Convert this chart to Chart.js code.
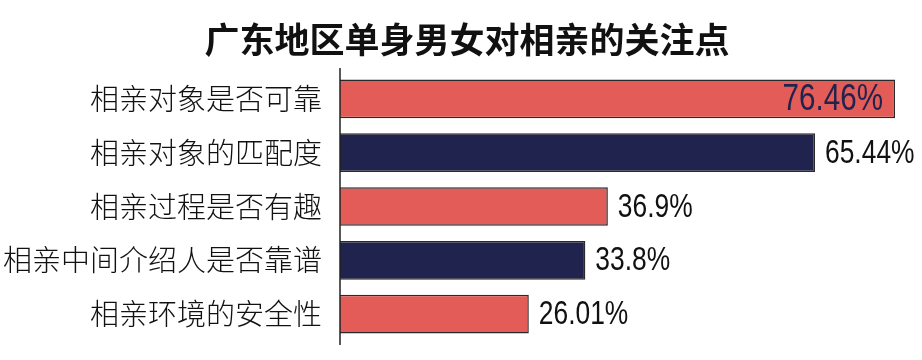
<!DOCTYPE html>
<html>
<head>
<meta charset="utf-8">
<script src="https://cdn.jsdelivr.net/npm/chart.js@4"></script>
<style>
  html, body { margin: 0; padding: 0; background: #fff; }
  #wrap { width: 922px; height: 360px; position: relative; }
</style>
</head>
<body>
<div id="wrap"><canvas id="chart"></canvas></div>
<script>
const chartTitle = '广东地区单身男女对相亲的关注点';
const categories = ['相亲对象是否可靠', '相亲对象的匹配度', '相亲过程是否有趣', '相亲中间介绍人是否靠谱', '相亲环境的安全性'];
const values = [76.46, 65.44, 36.9, 33.8, 26.01];
const barColors = ['#E35C58', '#1F234D', '#E35C58', '#1F234D', '#E35C58'];

const NAVY = '#1F234D';
const numFont = '"Liberation Sans", Arial, sans-serif';

// title drawn by hand so it can sit a little right of the canvas centre
const titlePlugin = {
  id: 'titlePlugin',
  afterDraw(chart) {
    const ctx = chart.ctx;
    ctx.save();
    ctx.font = 'bold 35px "Noto Sans CJK SC", sans-serif';
    ctx.fillStyle = '#111';
    ctx.textAlign = 'center';
    ctx.textBaseline = 'middle';
    ctx.fillText(chartTitle, 467, 40);
    ctx.restore();
  }
};

// value labels: first one sits inside the bar, the rest to the right (narrowed to look like DIN)
const valueLabels = {
  id: 'valueLabels',
  afterDatasetsDraw(chart) {
    const ctx = chart.ctx;
    const meta = chart.getDatasetMeta(0);
    const sx = 0.8;
    meta.data.forEach((bar, i) => {
      const txt = values[i] + '%';
      ctx.save();
      ctx.textBaseline = 'middle';
      if (i === 0) {
        ctx.font = '37px ' + numFont;
        ctx.fillStyle = NAVY;
        ctx.textAlign = 'right';
        ctx.translate(bar.x - 12, bar.y + 1);
      } else {
        ctx.font = '33px ' + numFont;
        ctx.fillStyle = '#111';
        ctx.textAlign = 'left';
        ctx.translate(bar.x + 10, bar.y + 1);
      }
      ctx.scale(sx, 1);
      ctx.fillText(txt, 0, 0);
      ctx.restore();
    });
  }
};

// vertical axis line, a bit longer than the plot area
const axisLine = {
  id: 'axisLine',
  afterDraw(chart) {
    const { ctx, chartArea } = chart;
    ctx.save();
    ctx.strokeStyle = '#222';
    ctx.lineWidth = 1.5;
    ctx.beginPath();
    ctx.moveTo(chartArea.left, chartArea.top - 4);
    ctx.lineTo(chartArea.left, chartArea.bottom + 4);
    ctx.stroke();
    ctx.restore();
  }
};

new Chart(document.getElementById('chart').getContext('2d'), {
  type: 'bar',
  data: {
    labels: categories,
    datasets: [{
      data: values,
      backgroundColor: barColors,
      borderColor: '#2a2a2a',
      borderWidth: 1.5,
      barPercentage: 0.72,
      categoryPercentage: 1
    }]
  },
  options: {
    indexAxis: 'y',
    responsive: true,
    maintainAspectRatio: false,
    animation: false,
    layout: { padding: { left: 0, right: 27, top: 72, bottom: 19 } },
    scales: {
      x: {
        display: false,
        min: 0,
        max: Math.max(...values)
      },
      y: {
        grid: { display: false },
        border: { display: false },
        ticks: {
          color: '#111',
          padding: 10,
          font: { family: '"Noto Sans CJK SC", sans-serif', size: 29, weight: '300' }
        },
        afterFit: (s) => { s.width = 340; s.paddingTop = 0; s.paddingBottom = 0; }
      }
    },
    plugins: {
      legend: { display: false },
      tooltip: { enabled: false },
      title: { display: false }
    }
  },
  plugins: [valueLabels, axisLine, titlePlugin]
});
</script>
</body>
</html>
